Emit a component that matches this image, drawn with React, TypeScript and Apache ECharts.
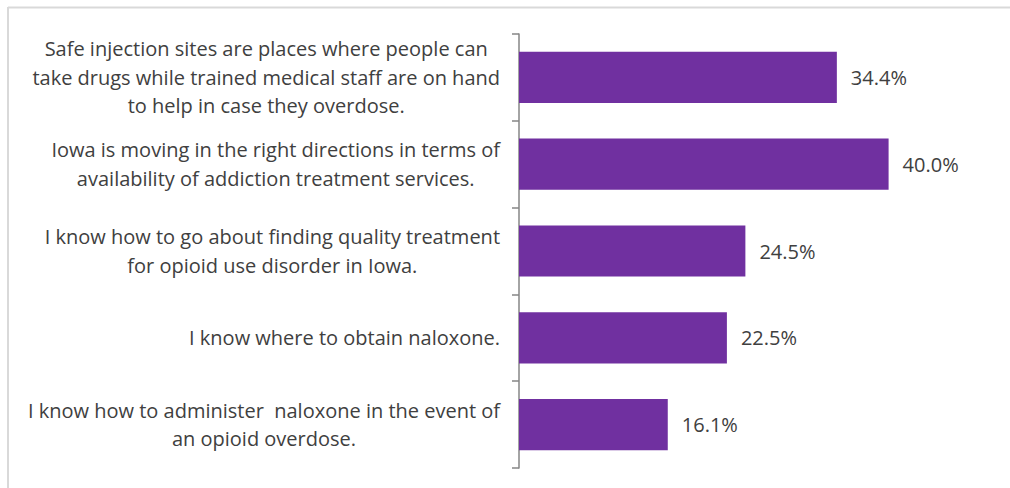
import React, { useEffect, useRef } from "react";
import * as echarts from "echarts";

const categories: string[] = [
  "Safe injection sites are places where people can\ntake drugs while trained medical staff are on hand\nto help in case they overdose.",
  "Iowa is moving in the right directions in terms of\navailability of addiction treatment services.",
  "I know how to go about finding quality treatment\nfor opioid use disorder in Iowa.",
  "I know where to obtain naloxone.",
  "I know how to administer  naloxone in the event of\nan opioid overdose.",
];
const values: number[] = [34.4, 40.0, 24.5, 22.5, 16.1];

export default function App() {
  const ref = useRef<HTMLDivElement>(null);
  useEffect(() => {
    if (!ref.current) return;
    const chart = echarts.init(ref.current, undefined, { renderer: "svg" });
    const font = "'Open Sans', 'Noto Sans', sans-serif";
    const size = 20;
    chart.setOption({
      animation: false,
      backgroundColor: "#ffffff",
      grid: { left: 519, right: 29, top: 34, bottom: 20, containLabel: false },
      xAxis: {
        type: "value",
        min: 0,
        max: 50,
        show: false,
      },
      yAxis: {
        type: "category",
        inverse: true,
        data: categories,
        axisLine: { show: true, lineStyle: { color: "#868686", width: 1.5 } },
        axisTick: { show: true, length: 7, lineStyle: { color: "#868686", width: 1.5 } },
        axisLabel: {
          margin: 19,
          fontFamily: font,
          fontSize: size,
          color: "#404040",
          lineHeight: 28.5,
          formatter: (v: string) =>
            v.split("\n").map((l) => `{c|${l}}`).join("\n"),
          rich: {
            c: {
              align: "center",
              fontFamily: font,
              fontSize: size,
              color: "#404040",
              lineHeight: 28.5,
            },
          },
        },
        splitLine: { show: false },
      },
      series: [
        {
          type: "bar",
          data: values,
          barCategoryGap: "41%",
          itemStyle: { color: "#7030A0" },
          label: {
            show: true,
            position: "right",
            distance: 14,
            fontFamily: font,
            fontSize: size,
            color: "#404040",
            formatter: (p: any) => `${p.value.toFixed(1)}%`,
          },
        },
      ],
      graphic: [
        {
          type: "line",
          shape: { x1: 8, y1: 7.5, x2: 1030, y2: 7.5 },
          style: { stroke: "#d9d9d9", lineWidth: 2 },
        },
        {
          type: "line",
          shape: { x1: 8, y1: 7, x2: 8, y2: 500 },
          style: { stroke: "#d9d9d9", lineWidth: 2 },
        },
      ],
    });
    return () => chart.dispose();
  }, []);
  return (
    <div
      ref={ref}
      style={{ position: "fixed", left: 0, top: 0, width: 1010, height: 488 }}
    />
  );
}
